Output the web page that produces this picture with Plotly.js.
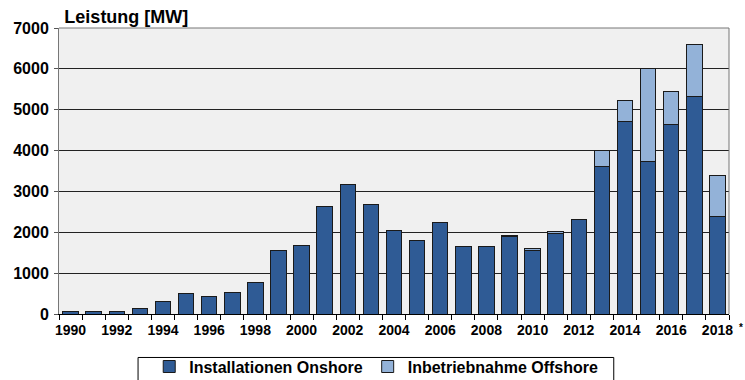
<!DOCTYPE html>
<html>
<head>
<meta charset="utf-8">
<script src="https://cdn.plot.ly/plotly-3.0.1.min.js"></script>
<style>html,body{margin:0;padding:0;background:#fff;}#chart{width:745px;height:380px;}</style>
</head>
<body>
<div id="chart"></div>
<script>
const years = [1990,1991,1992,1993,1994,1995,1996,1997,1998,1999,2000,2001,2002,2003,2004,2005,2006,2007,2008,2009,2010,2011,2012,2013,2014,2015,2016,2017,2018];
const onshore = [55,50,50,140,310,500,425,530,775,1566,1672,2643,3165,2684,2040,1811,2230,1656,1640,1905,1566,1975,2325,3605,4716,3737,4633,5335,2398];
const offshore = [0,0,0,0,0,0,0,0,0,0,0,0,0,0,10,0,10,0,8,5,42,50,0,392,514,2267,817,1256,987];
const tickYears = [1990,1992,1994,1996,1998,2000,2002,2004,2006,2008,2010,2012,2014,2016,2018];
const seriesNames = ['Installationen Onshore','Inbetriebnahme Offshore'];

const fam = 'Liberation Sans, Arial, sans-serif';
const data = [
  {type:'bar', x:years, y:onshore, name:seriesNames[0],
   marker:{color:'#2f5b95', line:{color:'#1a1a1a', width:1}}},
  {type:'bar', x:years, y:offshore, name:seriesNames[1],
   marker:{color:'#93b2d8', line:{color:'#1a1a1a', width:1}}}
];
const layout = {
  width:745, height:380,
  margin:{l:59, r:16, t:28, b:66},
  barmode:'stack', bargap:0.33,
  paper_bgcolor:'#fff', plot_bgcolor:'#f0f0f0',
  font:{family:fam, size:14, color:'#000', weight:'bold'},
  showlegend:true,
  title:{text:'Leistung [MW]', font:{family:fam, size:18, color:'#000', weight:'bold'},
         xref:'paper', x:0.008, xanchor:'left', yref:'container', y:0.955, yanchor:'middle'},
  xaxis:{range:[1989.5,2018.5], tickvals:tickYears, ticktext:tickYears.map(String), ticks:'',
         showgrid:false, zeroline:false, showline:true, linecolor:'#000', linewidth:1,
         tickfont:{family:fam, size:14, color:'#000', weight:'bold'}, ticklabelstandoff:3,
         minor:{ticks:'outside', tick0:1989.5, dtick:1, ticklen:5, tickcolor:'#000', showgrid:false}},
  yaxis:{range:[0,7000], dtick:1000, tickformat:'d', ticks:'outside', ticklen:4, tickcolor:'#555',
         showgrid:true, gridcolor:'#222', gridwidth:1, zeroline:false,
         showline:true, linecolor:'#777', linewidth:1,
         tickfont:{family:fam, size:16, color:'#000', weight:'bold'}, ticklabelstandoff:2},
  legend:{orientation:'h', x:0.505, xref:'container', xanchor:'center', yref:'container', y:0.08, yanchor:'top',
          bgcolor:'rgba(0,0,0,0)', borderwidth:0,
          font:{family:fam, size:16, color:'#000', weight:'bold'}, traceorder:'normal'},
  shapes:[
    {type:'line', xref:'paper', yref:'paper', x0:0, x1:1, y0:1, y1:1, line:{color:'#777', width:1}},
    {type:'line', xref:'paper', yref:'paper', x0:1, x1:1, y0:0, y1:1, line:{color:'#777', width:1}},
    {type:'rect', xref:'paper', yref:'paper', x0:0.118, x1:0.828, y0:-0.152, y1:-0.32, line:{color:'#000', width:1}}
  ],
  annotations:[
    {text:'*', xref:'paper', yref:'paper', x:1.012, y:-0.02, xanchor:'left', yanchor:'top', showarrow:false,
     font:{family:fam, size:10, color:'#000'}}
  ]
};
Plotly.newPlot('chart', data, layout, {displayModeBar:false, staticPlot:true});
</script>
</body>
</html>
